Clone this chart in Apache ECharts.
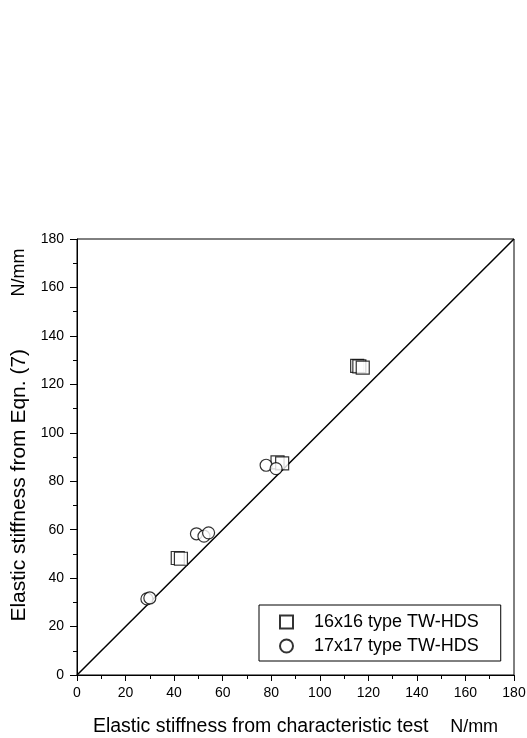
<!DOCTYPE html>
<html>
<head>
<meta charset="utf-8">
<script src="https://cdn.jsdelivr.net/npm/echarts@6/dist/echarts.min.js"></script>
<style>
    html, body { margin: 0; padding: 0; background: #fff; }
    #chart { width: 527px; height: 738px; }
</style>
</head>
<body>
<div id="chart"></div>
<script>
// 16x16 type TW-HDS
var sq16 = [[41.5, 48.3], [42.8, 48.0], [82.6, 87.8], [84.5, 87.4], [115.4, 127.6], [116.3, 127.4], [117.7, 126.9]];
// 17x17 type TW-HDS
var ci17 = [[28.8, 31.4], [30.0, 31.8], [49.2, 58.3], [52.3, 57.3], [54.2, 58.7], [77.9, 86.6], [82.0, 85.2]];
var diagonal = [[0, 0], [180, 180]];
var seriesNames = ['16x16 type TW-HDS', '17x17 type TW-HDS'];

var font = 'Liberation Sans, Arial, sans-serif';
var chart = echarts.init(document.getElementById('chart'));

var option = {
    animation: false,
    backgroundColor: '#fff',
    textStyle: { fontFamily: font, color: '#000' },
    grid: {
        left: 77, top: 239, right: 13, bottom: 63,
        outerBoundsMode: 'none',
        show: true, borderColor: '#000', borderWidth: 1, backgroundColor: 'transparent'
    },
    legend: {
        data: seriesNames,
        orient: 'vertical',
        left: 259, top: 605,
        padding: [8, 22, 6, 20],
        itemGap: 6,
        itemWidth: 13, itemHeight: 13,
        borderColor: '#000', borderWidth: 1,
        backgroundColor: '#fff',
        textStyle: { fontFamily: font, fontSize: 18, color: '#000', padding: [0, 0, 0, 16] }
    },
    xAxis: {
        type: 'value', min: 0, max: 180, interval: 20,
        name: '{a|Elastic stiffness from characteristic test    }{b|N/mm}',
        nameLocation: 'middle', nameGap: 42,
        nameTextStyle: {
            fontFamily: font, fontSize: 19.5, color: '#000',
            rich: {
                a: { fontFamily: font, fontSize: 19.5, color: '#000' },
                b: { fontFamily: font, fontSize: 18, color: '#000' }
            }
        },
        axisLine: { onZero: false, lineStyle: { color: '#000', width: 1 } },
        axisTick: { show: true, length: 6, lineStyle: { color: '#000' } },
        minorTick: { show: true, splitNumber: 2, length: 4, lineStyle: { color: '#000' } },
        axisLabel: { fontFamily: font, fontSize: 14, color: '#000', margin: 11 },
        splitLine: { show: false }
    },
    yAxis: {
        type: 'value', min: 0, max: 180, interval: 20,
        name: '{a|Elastic stiffness from Eqn. (7)         }{b|N/mm}',
        nameLocation: 'middle', nameGap: 43,
        nameTextStyle: {
            fontFamily: font, fontSize: 21, color: '#000', padding: [0, 0, 0, 44],
            rich: {
                a: { fontFamily: font, fontSize: 21, color: '#000' },
                b: { fontFamily: font, fontSize: 18, color: '#000' }
            }
        },
        axisLine: { onZero: false, lineStyle: { color: '#000', width: 1 } },
        axisTick: { show: true, length: 7, lineStyle: { color: '#000' } },
        minorTick: { show: true, splitNumber: 2, length: 4, lineStyle: { color: '#000' } },
        axisLabel: { fontFamily: font, fontSize: 14, color: '#000', margin: 13 },
        splitLine: { show: false }
    },
    series: [
        {
            type: 'line', data: diagonal, symbol: 'none', silent: true,
            lineStyle: { color: '#000', width: 1.5 }, z: 1
        },
        {
            name: seriesNames[0], type: 'scatter', data: sq16,
            symbol: 'rect', symbolSize: 13,
            itemStyle: { color: '#fff', borderColor: '#000', borderWidth: 1.2 }, z: 3
        },
        {
            name: seriesNames[1], type: 'scatter', data: ci17,
            symbol: 'circle', symbolSize: 12,
            itemStyle: { color: '#fff', borderColor: '#000', borderWidth: 1.2 }, z: 3
        }
    ]
};

chart.setOption(option);
</script>
</body>
</html>
